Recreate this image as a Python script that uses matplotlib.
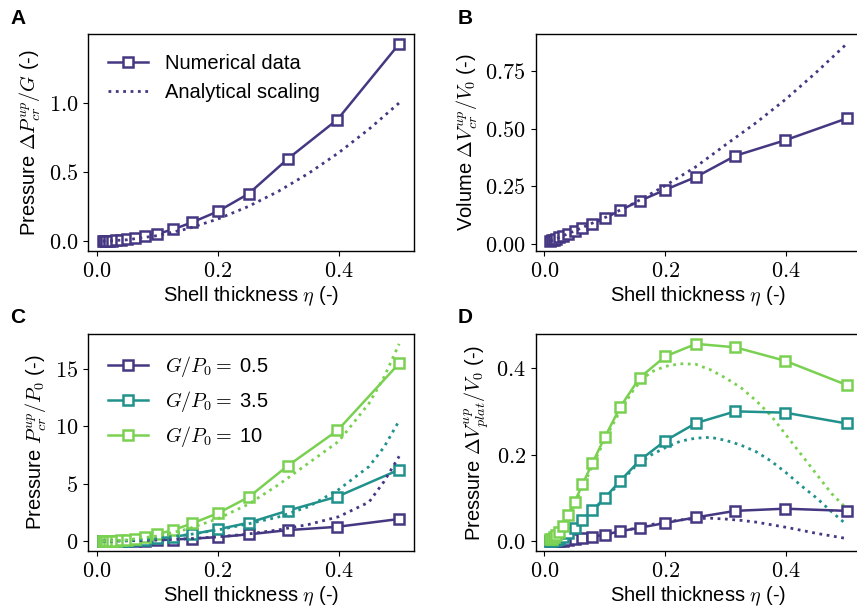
import matplotlib
matplotlib.use("Agg")
import matplotlib.pyplot as plt
from matplotlib.ticker import MultipleLocator, FormatStrFormatter

plt.rcParams["font.family"] = ["Liberation Sans", "DejaVu Sans"]
plt.rcParams["mathtext.fontset"] = "cm"
plt.rcParams["font.size"] = 14.5
plt.rcParams["axes.linewidth"] = 1.0

PURPLE, TEAL, GREEN = "#453781", "#21918c", "#7ad151"

# shell thickness values of the simulations
eta = [0.01, 0.0126, 0.0158, 0.02, 0.0251, 0.0316, 0.0398, 0.05, 0.0631,
       0.0794, 0.1, 0.126, 0.158, 0.2, 0.251, 0.316, 0.398, 0.5]

# A: critical pressure / G
pcr_num = [0.0005, 0.0009, 0.0014, 0.0022, 0.0034, 0.0054, 0.0086, 0.0135, 0.0215,
           0.034, 0.053, 0.085, 0.137, 0.215, 0.343, 0.596, 0.88, 1.427]
eta_an = [0.01, 0.05, 0.1, 0.15, 0.2, 0.25, 0.3, 0.35, 0.4, 0.45, 0.5]
pcr_an = [0.0004, 0.01, 0.04, 0.09, 0.16, 0.25, 0.36, 0.49, 0.64, 0.81, 1.0]

# B: critical volume / V0
vcr_num = [0.011, 0.014, 0.017, 0.022, 0.027, 0.034, 0.043, 0.054, 0.069,
           0.087, 0.11, 0.146, 0.186, 0.234, 0.29, 0.382, 0.449, 0.544]
vcr_an = [0.011, 0.055, 0.113, 0.178, 0.252, 0.333, 0.43, 0.525, 0.629, 0.745, 0.868]

# C: critical pressure / P0 for three G/P0
gp_labels = [r"$G/P_0 =\;$0.5", r"$G/P_0 =\;$3.5", r"$G/P_0 =\;$10"]
pc_num = [
    [0.0, 0.0, 0.0, 0.001, 0.002, 0.003, 0.005, 0.008, 0.013,
     0.022, 0.08, 0.14, 0.22, 0.35, 0.59, 0.96, 1.25, 1.93],
    [0.002, 0.003, 0.005, 0.008, 0.012, 0.019, 0.03, 0.047, 0.075,
     0.12, 0.23, 0.38, 0.61, 1.03, 1.6, 2.66, 3.89, 6.23],
    [0.005, 0.008, 0.013, 0.02, 0.032, 0.05, 0.08, 0.13, 0.2,
     0.32, 0.61, 0.96, 1.55, 2.43, 3.83, 6.58, 9.65, 15.5],
]
eta_c = [0.01, 0.05, 0.1, 0.15, 0.2, 0.25, 0.3, 0.35, 0.4, 0.45, 0.475, 0.5]
pc_an = [
    [0.0, 0.02, 0.09, 0.2, 0.37, 0.62, 0.98, 1.45, 2.13, 3.4, 5.2, 7.4],
    [0.002, 0.06, 0.24, 0.55, 0.97, 1.5, 2.1, 3.0, 4.5, 6.5, 8.2, 10.5],
    [0.004, 0.11, 0.45, 1.05, 1.95, 3.2, 4.9, 6.8, 8.7, 12.0, 14.3, 17.2],
]

# D: plateau volume / V0
vp_num = [
    [0.0, 0.0, 0.0, 0.0, 0.001, 0.001, 0.002, 0.004, 0.007,
     0.01, 0.015, 0.023, 0.031, 0.042, 0.055, 0.07, 0.075, 0.07],
    [0.001, 0.001, 0.002, 0.003, 0.005, 0.01, 0.018, 0.03, 0.049,
     0.071, 0.1, 0.14, 0.187, 0.232, 0.273, 0.3, 0.297, 0.272],
    [0.004, 0.006, 0.009, 0.014, 0.022, 0.036, 0.061, 0.09, 0.131,
     0.18, 0.24, 0.311, 0.378, 0.427, 0.456, 0.448, 0.417, 0.361],
]
eta_d = [0.01, 0.025, 0.05, 0.075, 0.1, 0.125, 0.15, 0.175, 0.2, 0.225, 0.25, 0.275,
         0.3, 0.325, 0.35, 0.375, 0.4, 0.425, 0.45, 0.475, 0.5]
vp_an = [
    [0.0, 0.001, 0.004, 0.008, 0.014, 0.021, 0.03, 0.038, 0.044, 0.049, 0.052, 0.053,
     0.051, 0.048, 0.044, 0.038, 0.032, 0.025, 0.018, 0.012, 0.006],
    [0.002, 0.01, 0.033, 0.065, 0.097, 0.135, 0.172, 0.198, 0.216, 0.231, 0.238, 0.24,
     0.233, 0.222, 0.207, 0.185, 0.158, 0.128, 0.1, 0.068, 0.038],
    [0.004, 0.02, 0.085, 0.16, 0.235, 0.3, 0.355, 0.39, 0.404, 0.41, 0.409, 0.396,
     0.377, 0.355, 0.325, 0.29, 0.245, 0.2, 0.155, 0.11, 0.075],
]

colors = [PURPLE, TEAL, GREEN]
mk = dict(marker="s", markersize=7, markerfacecolor="white", markeredgewidth=1.8, lw=1.8)
dot = dict(ls=":", lw=2.0)

fig = plt.figure(figsize=(8.57, 6.16), dpi=100)
W = 326 / 857
H = 217 / 616
axA = fig.add_axes([88 / 857, 1 - 251 / 616, W, H])
axB = fig.add_axes([535.5 / 857, 1 - 251 / 616, W, H])
axC = fig.add_axes([88 / 857, 1 - 551 / 616, W, H])
axD = fig.add_axes([535.5 / 857, 1 - 551 / 616, W, H])

# A
axA.plot(eta, pcr_num, color=PURPLE, label="Numerical data", **mk)
axA.plot(eta_an, pcr_an, color=PURPLE, label="Analytical scaling", **dot)
axA.set_ylabel(r"Pressure $\Delta P_{cr}^{up}/G$ (-)")
axA.yaxis.set_major_locator(MultipleLocator(0.5))
axA.yaxis.set_major_formatter(FormatStrFormatter(r"$%.1f$"))
axA.legend(loc="upper left", frameon=False, borderaxespad=0.6)

# B
axB.plot(eta, vcr_num, color=PURPLE, **mk)
axB.plot(eta_an, vcr_an, color=PURPLE, **dot)
axB.set_ylabel(r"Volume $\Delta V_{cr}^{up}/V_0$ (-)")
axB.yaxis.set_major_locator(MultipleLocator(0.25))
axB.yaxis.set_major_formatter(FormatStrFormatter(r"$%.2f$"))

# C
for i in range(3):
    axC.plot(eta, pc_num[i], color=colors[i], label=gp_labels[i], **mk)
for i in range(3):
    axC.plot(eta_c, pc_an[i], color=colors[i], **dot)
axC.set_ylabel(r"Pressure $P_{cr}^{up}/P_0$ (-)")
axC.yaxis.set_major_locator(MultipleLocator(5))
axC.yaxis.set_major_formatter(FormatStrFormatter(r"$%d$"))
axC.legend(loc="upper left", frameon=False, borderaxespad=0.6)

# D
for i in range(3):
    axD.plot(eta_d, vp_an[i], color=colors[i], **dot)
for i in range(3):
    axD.plot(eta, vp_num[i], color=colors[i], **mk)
axD.set_ylabel(r"Pressure $\Delta V_{plat}^{up}/V_0$ (-)")
axD.yaxis.set_major_locator(MultipleLocator(0.2))
axD.yaxis.set_major_formatter(FormatStrFormatter(r"$%.1f$"))

for ax in (axA, axB, axC, axD):
    ax.set_xlim(-0.0145, 0.5245)
    ax.set_xlabel(r"Shell thickness $\eta$ (-)", labelpad=2)
    ax.xaxis.set_major_locator(MultipleLocator(0.2))
    ax.xaxis.set_major_formatter(FormatStrFormatter(r"$%.1f$"))
    ax.tick_params(labelsize=16, length=3.5)

for x, y, s in [(10, 9, "A"), (458, 9, "B"), (10, 308, "C"), (458, 308, "D")]:
    fig.text(x / 857, 1 - y / 616, s, fontsize=15, fontweight="bold", va="top", ha="left")

fig.savefig("out.png", dpi=100)
